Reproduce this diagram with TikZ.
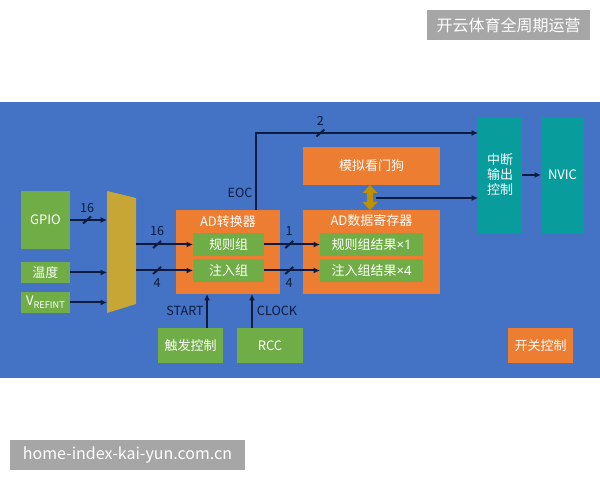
\documentclass[tikz,border=0pt]{standalone}
\usepackage{fontspec}
\setmainfont{Noto Sans CJK SC}
\newfontfamily\latinfont{Noto Sans}
\usetikzlibrary{fit,calc,arrows.meta}
\definecolor{bgblue}{HTML}{4472C4}
\definecolor{gr}{HTML}{70AD47}
\definecolor{orng}{HTML}{ED7D31}
\definecolor{tl}{HTML}{089C9C}
\definecolor{muxc}{HTML}{C8A636}
\definecolor{dgold}{HTML}{BF9000}
\definecolor{lnc}{HTML}{0D1B3E}
\definecolor{wmg}{HTML}{A6A6A6}
\tikzset{
  box/.style={inner sep=0pt, outer sep=0pt, font=\fontsize{6.5}{7.5}\selectfont, text=white, align=center},
  gbox/.style={box, fill=gr},
  obox/.style={box, fill=orng},
  tbox/.style={box, fill=tl},
  wline/.style={draw=lnc, line width=1pt},
  arr/.style={wline, -{Latex[length=3.2pt,width=3pt]}},
  lbl/.style={text=lnc, inner sep=0pt, font=\fontsize{6.3}{7}\selectfont},
  wlbl/.style={text=white, inner sep=0pt, font=\fontsize{6.5}{7.5}\selectfont},
  wm/.style={fill=wmg, text=white, inner sep=0pt, font=\fontsize{8}{9}\selectfont}
}
\begin{document}
\begin{tikzpicture}[x=0.5pt,y=-0.5pt]
\useasboundingbox (0,0) rectangle (600,480);
\fill[white] (0,0) rectangle (600,480);
\fill[bgblue] (0,102) rectangle (600,378);

% watermarks
\node[wm, minimum width=81.5pt, minimum height=15pt] (wm1) at (508.5,25) {开云体育全周期运营};
\node[wm, minimum width=117.5pt, minimum height=15pt] (wm2) at (127.5,455) {home-index-kai-yun.com.cn};

% inputs
\node[gbox, minimum width=24.5pt, minimum height=29pt] (gpio) at (45.5,220) {GPIO};
\node[gbox, minimum width=24.5pt, minimum height=10.5pt] (temp) at (45.5,272.5) {温度};
\node[gbox, minimum width=24.5pt, minimum height=10.5pt] (vref) at (45.5,302.5) {V\raisebox{-0.45ex}{\fontsize{4.6}{5}\selectfont REFINT}};

% mux
\fill[muxc] (107,191) -- (136,198) -- (136,304) -- (107,313) -- cycle;
\node[inner sep=0pt, outer sep=0pt, fit={(107,191)(136,313)}] (mux) {};

% AD converter
\node[obox, fit={(176,210)(280,294)}] (ad) {};
\node[wlbl] (adt) at (228,222) {AD转换器};
\node[gbox, minimum width=35.5pt, minimum height=11.5pt] (rule) at (228.5,244.5) {规则组};
\node[gbox, minimum width=35.5pt, minimum height=11.5pt] (inj) at (228.5,270.5) {注入组};

% AD data register
\node[obox, fit={(303,210)(440,294)}] (reg) {};
\node[wlbl] (regt) at (371.5,221) {AD数据寄存器};
\node[gbox, minimum width=51.5pt, minimum height=11.5pt] (rres) at (371.5,244.5) {规则组结果{\latinfont ×1}};
\node[gbox, minimum width=51.5pt, minimum height=11.5pt] (ires) at (371.5,270.5) {注入组结果{\latinfont ×4}};

% watchdog
\node[obox, minimum width=68.5pt, minimum height=19pt] (wd) at (371.5,166) {模拟看门狗};

% interrupt, NVIC
\node[tbox, minimum width=22pt, minimum height=58pt] (intc) at (500,175) {中断\\输出\\控制};
\node[tbox, minimum width=21.5pt, minimum height=58pt] (nvic) at (562.5,175) {NVIC};

% bottom boxes
\node[gbox, minimum width=32.5pt, minimum height=17.5pt] (trig) at (190.5,345.5) {触发控制};
\node[gbox, minimum width=33pt, minimum height=17.5pt] (rcc) at (270,345.5) {RCC};
\node[obox, minimum width=32.5pt, minimum height=17.5pt] (sw) at (540.5,345.5) {开关控制};

% double arrow between watchdog and register
\fill[dgold] (370,185) -- (377.5,193) -- (373,193) -- (373,202) -- (377.5,202) -- (370,210)
  -- (362.5,202) -- (367,202) -- (367,193) -- (362.5,193) -- cycle;
\coordinate (dw) at (376,198);

% input connectors
\draw[arr] (gpio.east) -- coordinate[pos=0.46] (b1) (mux.west |- gpio.east);
\draw[arr] (temp.east) -- (mux.west |- temp.east);
\draw[arr] (vref.east) -- (mux.west |- vref.east);

% mux to converter
\draw[arr] (mux.east |- rule.west) -- coordinate[pos=0.37] (b2) (rule.west);
\draw[arr] (mux.east |- inj.west) -- coordinate[pos=0.37] (b3) (inj.west);

% converter to register
\draw[arr] (rule.east) -- coordinate[pos=0.45] (b4) (rres.west);
\draw[arr] (inj.east) -- coordinate[pos=0.45] (b5) (ires.west);

% EOC line
\coordinate (eoc) at (256,133);
\draw[arr] (eoc |- ad.north) -- (eoc) -- coordinate[pos=0.29] (b6) (eoc -| intc.west);

% watchdog to interrupt
\draw[arr] (dw) -- (dw -| intc.west);

% interrupt to NVIC
\draw[arr] (intc.east) -- (nvic.west);

% START, CLOCK
\coordinate (st) at (207,320);
\coordinate (ck) at (252,320);
\draw[arr] (st |- trig.north) -- (st |- ad.south);
\draw[arr] (ck |- rcc.north) -- (ck |- ad.south);

% bus slashes
\foreach \b in {b1,b2,b3,b4,b5,b6}
  \draw[wline] ($(\b)+(-4,3.5)$) -- ($(\b)+(4,-3.5)$);

% labels
\node[lbl] at ($(b1)+(0,-12)$) {16};
\node[lbl] at ($(b2)+(0,-13)$) {16};
\node[lbl] at ($(b3)+(0,13)$) {4};
\node[lbl] at ($(b4)+(0,-13)$) {1};
\node[lbl] at ($(b5)+(0,13)$) {4};
\node[lbl] at ($(b6)+(0,-12)$) {2};
\node[lbl] at (240,193) {EOC};
\node[lbl] at (185,311) {START};
\node[lbl] at (277,311) {CLOCK};
\end{tikzpicture}
\end{document}
